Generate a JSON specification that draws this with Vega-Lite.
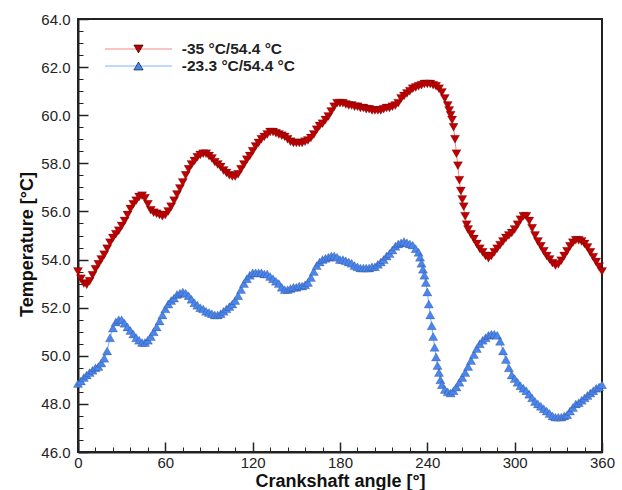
{
  "$schema": "https://vega.github.io/schema/vega-lite/v6.json",
  "autosize": "none",
  "width": 524,
  "height": 433,
  "padding": {"left": 78, "top": 19, "right": 20, "bottom": 38},
  "background": "white",
  "data": {"values": [
    {"x":0,"s1":53.5,"s2":48.85},{"x":2,"s1":53.2,"s2":48.95},{"x":4,"s1":53.0,"s2":49.1},{"x":6,"s1":52.95,"s2":49.2},
    {"x":8,"s1":53.1,"s2":49.3},{"x":10,"s1":53.35,"s2":49.4},{"x":12,"s1":53.6,"s2":49.5},{"x":14,"s1":53.8,"s2":49.55},
    {"x":16,"s1":54.0,"s2":49.7},{"x":18,"s1":54.2,"s2":49.9},{"x":20,"s1":54.45,"s2":50.2},{"x":22,"s1":54.7,"s2":50.75},
    {"x":24,"s1":54.9,"s2":51.15},{"x":26,"s1":55.05,"s2":51.4},{"x":28,"s1":55.2,"s2":51.5},{"x":30,"s1":55.4,"s2":51.5},
    {"x":32,"s1":55.6,"s2":51.35},{"x":34,"s1":55.85,"s2":51.2},{"x":36,"s1":56.1,"s2":51.05},{"x":38,"s1":56.3,"s2":50.9},
    {"x":40,"s1":56.45,"s2":50.75},{"x":42,"s1":56.6,"s2":50.65},{"x":44,"s1":56.65,"s2":50.55},{"x":46,"s1":56.55,"s2":50.55},
    {"x":48,"s1":56.3,"s2":50.65},{"x":50,"s1":56.05,"s2":50.8},{"x":52,"s1":55.95,"s2":51.0},{"x":54,"s1":55.9,"s2":51.2},
    {"x":56,"s1":55.85,"s2":51.45},{"x":58,"s1":55.8,"s2":51.7},{"x":60,"s1":55.85,"s2":51.95},{"x":62,"s1":56.0,"s2":52.15},
    {"x":64,"s1":56.2,"s2":52.3},{"x":66,"s1":56.45,"s2":52.4},{"x":68,"s1":56.7,"s2":52.55},{"x":70,"s1":56.95,"s2":52.6},
    {"x":72,"s1":57.2,"s2":52.65},{"x":74,"s1":57.5,"s2":52.6},{"x":76,"s1":57.75,"s2":52.5},{"x":78,"s1":57.95,"s2":52.35},
    {"x":80,"s1":58.1,"s2":52.2},{"x":82,"s1":58.25,"s2":52.1},{"x":84,"s1":58.35,"s2":52.0},{"x":86,"s1":58.4,"s2":51.95},
    {"x":88,"s1":58.4,"s2":51.85},{"x":90,"s1":58.3,"s2":51.8},{"x":92,"s1":58.2,"s2":51.75},{"x":94,"s1":58.05,"s2":51.7},
    {"x":96,"s1":57.95,"s2":51.7},{"x":98,"s1":57.85,"s2":51.75},{"x":100,"s1":57.7,"s2":51.85},{"x":102,"s1":57.6,"s2":51.95},
    {"x":104,"s1":57.5,"s2":52.05},{"x":106,"s1":57.45,"s2":52.15},{"x":108,"s1":57.45,"s2":52.3},{"x":110,"s1":57.55,"s2":52.5},
    {"x":112,"s1":57.75,"s2":52.75},{"x":114,"s1":57.95,"s2":53.0},{"x":116,"s1":58.15,"s2":53.2},{"x":118,"s1":58.3,"s2":53.35},
    {"x":120,"s1":58.5,"s2":53.45},{"x":122,"s1":58.7,"s2":53.45},{"x":124,"s1":58.85,"s2":53.45},{"x":126,"s1":59.0,"s2":53.45},
    {"x":128,"s1":59.1,"s2":53.4},{"x":130,"s1":59.2,"s2":53.4},{"x":132,"s1":59.3,"s2":53.3},{"x":134,"s1":59.3,"s2":53.2},
    {"x":136,"s1":59.25,"s2":53.1},{"x":138,"s1":59.2,"s2":53.0},{"x":140,"s1":59.15,"s2":52.85},{"x":142,"s1":59.1,"s2":52.75},
    {"x":144,"s1":59.0,"s2":52.75},{"x":146,"s1":58.9,"s2":52.8},{"x":148,"s1":58.85,"s2":52.85},{"x":150,"s1":58.85,"s2":52.85},
    {"x":152,"s1":58.85,"s2":52.9},{"x":154,"s1":58.85,"s2":52.9},{"x":156,"s1":58.9,"s2":52.95},{"x":158,"s1":58.95,"s2":53.05},
    {"x":160,"s1":59.05,"s2":53.25},{"x":162,"s1":59.2,"s2":53.5},{"x":164,"s1":59.4,"s2":53.75},{"x":166,"s1":59.55,"s2":53.9},
    {"x":168,"s1":59.65,"s2":54.0},{"x":170,"s1":59.8,"s2":54.05},{"x":172,"s1":59.95,"s2":54.1},{"x":174,"s1":60.15,"s2":54.15},
    {"x":176,"s1":60.35,"s2":54.15},{"x":178,"s1":60.5,"s2":54.1},{"x":180,"s1":60.5,"s2":54.0},{"x":182,"s1":60.5,"s2":54.0},
    {"x":184,"s1":60.45,"s2":53.95},{"x":186,"s1":60.4,"s2":53.9},{"x":188,"s1":60.4,"s2":53.85},{"x":190,"s1":60.35,"s2":53.75},
    {"x":192,"s1":60.35,"s2":53.7},{"x":194,"s1":60.3,"s2":53.65},{"x":196,"s1":60.3,"s2":53.65},{"x":198,"s1":60.25,"s2":53.65},
    {"x":200,"s1":60.25,"s2":53.65},{"x":202,"s1":60.2,"s2":53.7},{"x":204,"s1":60.2,"s2":53.7},{"x":206,"s1":60.2,"s2":53.8},
    {"x":208,"s1":60.2,"s2":53.9},{"x":210,"s1":60.25,"s2":54.0},{"x":212,"s1":60.3,"s2":54.15},{"x":214,"s1":60.3,"s2":54.25},
    {"x":216,"s1":60.35,"s2":54.4},{"x":218,"s1":60.4,"s2":54.55},{"x":220,"s1":60.5,"s2":54.65},{"x":222,"s1":60.7,"s2":54.7},
    {"x":224,"s1":60.8,"s2":54.75},{"x":226,"s1":60.9,"s2":54.7},{"x":228,"s1":61.0,"s2":54.65},{"x":230,"s1":61.1,"s2":54.6},
    {"x":232,"s1":61.15,"s2":54.45},{"x":234,"s1":61.2,"s2":54.3},{"x":235,"s2":54.1},{"x":236,"s1":61.25,"s2":53.85},
    {"x":237,"s2":53.6},{"x":238,"s1":61.3,"s2":53.35},{"x":239,"s2":53.05},{"x":240,"s1":61.3,"s2":52.65},
    {"x":241,"s2":52.15},{"x":242,"s1":61.3,"s2":51.7},{"x":243,"s2":51.25},{"x":244,"s1":61.25,"s2":50.8},
    {"x":245,"s2":50.35},{"x":246,"s1":61.2,"s2":49.95},{"x":247,"s2":49.6},{"x":248,"s1":61.1,"s2":49.3},
    {"x":249,"s2":49.0},{"x":250,"s1":60.95,"s2":48.8},{"x":252,"s1":60.7,"s2":48.6},{"x":254,"s1":60.4,"s2":48.5},
    {"x":255,"s1":60.2},{"x":256,"s1":60.0,"s2":48.45},{"x":257,"s1":59.8},{"x":258,"s1":59.5,"s2":48.55},
    {"x":259,"s1":59.0},{"x":260,"s1":58.4,"s2":48.7},{"x":261,"s1":57.9},{"x":262,"s1":57.3,"s2":48.9},
    {"x":263,"s1":56.85},{"x":264,"s1":56.5,"s2":49.1},{"x":265,"s1":56.2},{"x":266,"s1":55.8,"s2":49.3},
    {"x":267,"s1":55.45},{"x":268,"s1":55.25,"s2":49.55},{"x":270,"s1":55.05,"s2":49.8},{"x":272,"s1":54.85,"s2":50.05},
    {"x":274,"s1":54.65,"s2":50.3},{"x":276,"s1":54.45,"s2":50.5},{"x":278,"s1":54.3,"s2":50.65},{"x":280,"s1":54.15,"s2":50.75},
    {"x":282,"s1":54.05,"s2":50.85},{"x":284,"s1":54.15,"s2":50.9},{"x":286,"s1":54.3,"s2":50.9},{"x":288,"s1":54.45,"s2":50.85},
    {"x":290,"s1":54.6,"s2":50.6},{"x":292,"s1":54.75,"s2":50.2},{"x":294,"s1":54.9,"s2":49.85},{"x":296,"s1":55.0,"s2":49.5},
    {"x":298,"s1":55.1,"s2":49.2},{"x":300,"s1":55.25,"s2":49.05},{"x":302,"s1":55.45,"s2":48.9},{"x":304,"s1":55.65,"s2":48.75},
    {"x":306,"s1":55.8,"s2":48.65},{"x":308,"s1":55.8,"s2":48.55},{"x":310,"s1":55.6,"s2":48.4},{"x":312,"s1":55.3,"s2":48.25},
    {"x":314,"s1":55.0,"s2":48.1},{"x":316,"s1":54.75,"s2":48.0},{"x":318,"s1":54.55,"s2":47.9},{"x":320,"s1":54.35,"s2":47.8},
    {"x":322,"s1":54.15,"s2":47.7},{"x":324,"s1":54.0,"s2":47.6},{"x":326,"s1":53.85,"s2":47.5},{"x":328,"s1":53.75,"s2":47.45},
    {"x":330,"s1":53.8,"s2":47.45},{"x":332,"s1":53.95,"s2":47.45},{"x":334,"s1":54.15,"s2":47.5},{"x":336,"s1":54.35,"s2":47.55},
    {"x":338,"s1":54.55,"s2":47.7},{"x":340,"s1":54.7,"s2":47.85},{"x":342,"s1":54.8,"s2":48.0},{"x":344,"s1":54.8,"s2":48.05},
    {"x":346,"s1":54.75,"s2":48.15},{"x":348,"s1":54.65,"s2":48.25},{"x":350,"s1":54.5,"s2":48.35},{"x":352,"s1":54.3,"s2":48.45},
    {"x":354,"s1":54.1,"s2":48.55},{"x":356,"s1":53.9,"s2":48.65},{"x":358,"s1":53.7,"s2":48.7},{"x":360,"s1":53.5,"s2":48.8}
  ]},
  "resolve": {"scale": {"x": "independent", "y": "independent"}, "axis": {"x": "independent", "y": "independent"}},
  "layer": [
    {
      "transform": [{"fold": ["s1", "s2"], "as": ["k", "T"]}, {"filter": "isValid(datum.T)"}],
      "mark": {"type": "line", "strokeWidth": 1},
      "encoding": {
        "x": {
          "field": "x", "type": "quantitative",
          "scale": {"domain": [0, 360], "nice": false, "zero": false},
          "axis": {
            "orient": "bottom",
            "title": "Crankshaft angle [°]",
            "values": [0, 60, 120, 180, 240, 300, 360],
            "format": "d",
            "tickSize": -10, "tickWidth": 1.5,
            "labelFlush": false, "labelOverlap": false, "labelPadding": 13,
            "titleY": 29, "titleBaseline": "middle"
          }
        },
        "y": {
          "field": "T", "type": "quantitative",
          "scale": {"domain": [46, 64], "nice": false, "zero": false},
          "axis": {
            "orient": "left",
            "title": "Temperature [°C]",
            "values": [46, 48, 50, 52, 54, 56, 58, 60, 62, 64],
            "format": ".1f",
            "tickSize": -10, "tickWidth": 1.5,
            "labelFlush": false, "labelOverlap": false, "labelPadding": 18,
            "titleX": -51, "titleY": 225, "titleBaseline": "middle"
          }
        },
        "stroke": {
          "field": "k", "type": "nominal",
          "scale": {"range": ["#f28b8b", "#7fb0ff"]},
          "legend": {
            "orient": "none", "legendX": 22, "legendY": 22, "title": null, "padding": 0,
            "symbolType": "M-6.7,0H6.7", "symbolSize": 100, "symbolStrokeWidth": 1,
            "symbolOffset": 30.75, "labelOffset": 35.5, "rowPadding": 0, "clipHeight": 16, "labelLimit": 300,
            "labelExpr": "datum.label == 's1' ? '-35 °C/54.4 °C' : '-23.3 °C/54.4 °C'",
            "labelFont": "Liberation Sans", "labelFontSize": 15.5, "labelFontWeight": "bold", "labelColor": "#222"
          }
        }
      }
    },
    {
      "transform": [{"fold": ["s1", "s2"], "as": ["m", "T"]}, {"filter": "isValid(datum.T)"}],
      "mark": {"type": "point", "filled": true, "size": 85, "opacity": 1, "stroke": "#000", "strokeOpacity": 0.3, "strokeWidth": 0.6},
      "encoding": {
        "x": {
          "field": "x", "type": "quantitative",
          "scale": {"domain": [0, 360], "nice": false, "zero": false},
          "axis": {
            "orient": "bottom", "title": null, "labels": false, "domain": false,
            "values": [12,24,36,48,72,84,96,108,132,144,156,168,192,204,216,228,252,264,276,288,312,324,336,348],
            "tickSize": -5, "tickWidth": 1
          }
        },
        "y": {
          "field": "T", "type": "quantitative",
          "scale": {"domain": [46, 64], "nice": false, "zero": false},
          "axis": {
            "orient": "left", "title": null, "labels": false, "domain": false,
            "values": [46.5,47,47.5,48.5,49,49.5,50.5,51,51.5,52.5,53,53.5,54.5,55,55.5,56.5,57,57.5,58.5,59,59.5,60.5,61,61.5,62.5,63,63.5],
            "tickSize": -5, "tickWidth": 1
          }
        },
        "fill": {
          "field": "m", "type": "nominal",
          "scale": {"range": ["#c00000", "#4a86f0"]},
          "legend": {
            "orient": "none", "legendX": 22, "legendY": 22, "title": null, "padding": 0, "zindex": 1,
            "symbolSize": 85, "symbolStrokeWidth": 0.6,
            "symbolOffset": 30.75, "labelOffset": 35.5, "rowPadding": 0, "clipHeight": 16, "labelLimit": 300, "labelOpacity": 0,
            "labelExpr": "datum.label == 's1' ? '-35 °C/54.4 °C' : '-23.3 °C/54.4 °C'",
            "labelFont": "Liberation Sans", "labelFontSize": 15.5, "labelFontWeight": "bold"
          }
        },
        "shape": {
          "field": "m", "type": "nominal",
          "scale": {"range": ["triangle-down", "triangle-up"]},
          "legend": {
            "orient": "none", "legendX": 22, "legendY": 22, "title": null, "padding": 0, "zindex": 1,
            "symbolSize": 85, "symbolStrokeWidth": 0.6,
            "symbolOffset": 30.75, "labelOffset": 35.5, "rowPadding": 0, "clipHeight": 16, "labelLimit": 300, "labelOpacity": 0,
            "labelExpr": "datum.label == 's1' ? '-35 °C/54.4 °C' : '-23.3 °C/54.4 °C'",
            "labelFont": "Liberation Sans", "labelFontSize": 15.5, "labelFontWeight": "bold"
          }
        }
      }
    }
  ],
  "config": {
    "view": {"stroke": "#222", "strokeWidth": 2},
    "axis": {
      "grid": false, "domainColor": "#222", "domainWidth": 2, "tickColor": "#222",
      "labelColor": "#222", "titleColor": "#111",
      "labelFont": "Liberation Sans", "titleFont": "Liberation Sans",
      "labelFontSize": 15, "titleFontSize": 18, "titleFontWeight": "bold"
    }
  }
}
